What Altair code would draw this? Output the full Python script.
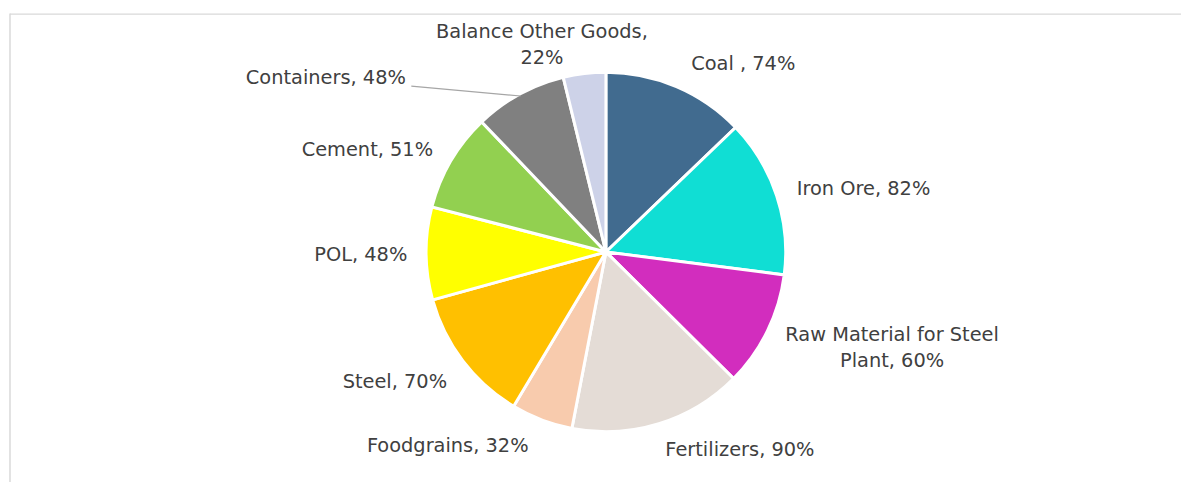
import json
import altair as alt
import pandas as pd

# ---- data ----
categories = ["Coal ", "Iron Ore", "Raw Material for Steel Plant", "Fertilizers",
              "Foodgrains", "Steel", "POL", "Cement", "Containers", "Balance Other Goods"]
values = [74, 82, 60, 90, 32, 70, 48, 51, 48, 22]
label_texts = ["Coal , 74%", "Iron Ore, 82%", "Raw Material for Steel\nPlant, 60%",
               "Fertilizers, 90%", "Foodgrains, 32%", "Steel, 70%", "POL, 48%",
               "Cement, 51%", "Containers, 48%", "Balance Other Goods,\n22%"]
colors = ["#416B8F", "#10DED4", "#D22DBE", "#E4DCD6", "#F8CBAD",
          "#FFC000", "#FFFF00", "#92D050", "#808080", "#CDD2E8"]

df = pd.DataFrame({
    "category": categories,
    "value": values,
    "label": label_texts,
    "idx": list(range(len(categories))),
})

W, H = 1179, 472
CX, CY = 600, 240
R = 181
FONT = "DejaVu Sans"
TXT = "#404040"

theta = alt.Theta("value:Q", stack=True)
order = alt.Order("idx:Q", sort="ascending")

pie = alt.Chart(df).mark_arc(outerRadius=R, stroke="white", strokeWidth=3).encode(
    theta=theta,
    order=order,
    color=alt.Color("category:N", sort=categories,
                    scale=alt.Scale(domain=categories, range=colors), legend=None),
    x=alt.value(CX), y=alt.value(CY),
)


def label_layer(names, align, baseline, radius, dx=0, dy=0):
    expr = f"indexof({json.dumps(names)}, datum.category) >= 0 ? datum.label : ''"
    return alt.Chart(df).transform_calculate(show=expr).mark_text(
        align=align, baseline=baseline, radius=radius, dx=dx, dy=dy,
        font=FONT, fontSize=19.5, color=TXT, lineBreak="\n", lineHeight=26,
    ).encode(
        theta=theta, order=order, text="show:N",
        x=alt.value(CX), y=alt.value(CY),
    )


layers = [
    label_layer(["Coal "], "left", "bottom", 196, dx=9, dy=1),
    label_layer(["Iron Ore"], "left", "middle", 196, dx=6, dy=-2),
    label_layer(["Raw Material for Steel Plant"], "center", "top", 196, dx=112, dy=-11),
    label_layer(["Fertilizers"], "left", "top", 196, dx=2, dy=3),
    label_layer(["Foodgrains"], "right", "top", 196, dx=-8, dy=3),
    label_layer(["Steel"], "right", "top", 196, dx=-4, dy=3),
    label_layer(["POL"], "right", "middle", 196, dx=-4, dy=2),
    label_layer(["Cement"], "right", "middle", 196, dx=-5, dy=-3),
    label_layer(["Containers"], "right", "middle", 180, dx=-115, dy=-17),
    label_layer(["Balance Other Goods"], "center", "bottom", 196, dx=-41, dy=-17),
]

# leader line for the Containers label, starting at the slice edge
leader = alt.Chart(df).transform_joinaggregate(
    total="sum(value)"
).transform_window(
    cum="sum(value)", sort=[alt.SortField("idx")], frame=[None, 0]
).transform_calculate(
    mid="(datum.cum - datum.value / 2) / datum.total * 2 * PI",
    x1=f"{CX} + {R - 2} * sin(datum.mid)",
    y1=f"{CY} - {R - 2} * cos(datum.mid)",
    x2="datum.x1 - 110",
    y2="datum.y1 - 10",
).transform_filter(
    "datum.category == 'Containers'"
).mark_rule(color="#A6A6A6", strokeWidth=1.2).encode(
    x=alt.X("x1:Q", scale=None), y=alt.Y("y1:Q", scale=None),
    x2="x2:Q", y2="y2:Q",
)

frame_df = pd.DataFrame({"k": [0]})
frame_top = alt.Chart(frame_df).mark_rule(color="#D9D9D9", strokeWidth=1.2).encode(
    x=alt.value(0), x2=alt.value(W), y=alt.value(0.5)
)
frame_left = alt.Chart(frame_df).mark_rule(color="#D9D9D9", strokeWidth=1.5).encode(
    x=alt.value(0), y=alt.value(0), y2=alt.value(H)
)

chart = alt.layer(frame_top, frame_left, pie, leader, *layers).properties(
    width=W, height=H,
    autosize=alt.AutoSizeParams(type="none"),
    padding={"left": 2, "top": 4, "right": 0, "bottom": 0},
).configure_view(stroke=None)

chart.save("out.html", embed_options={"renderer": "svg", "actions": False})
